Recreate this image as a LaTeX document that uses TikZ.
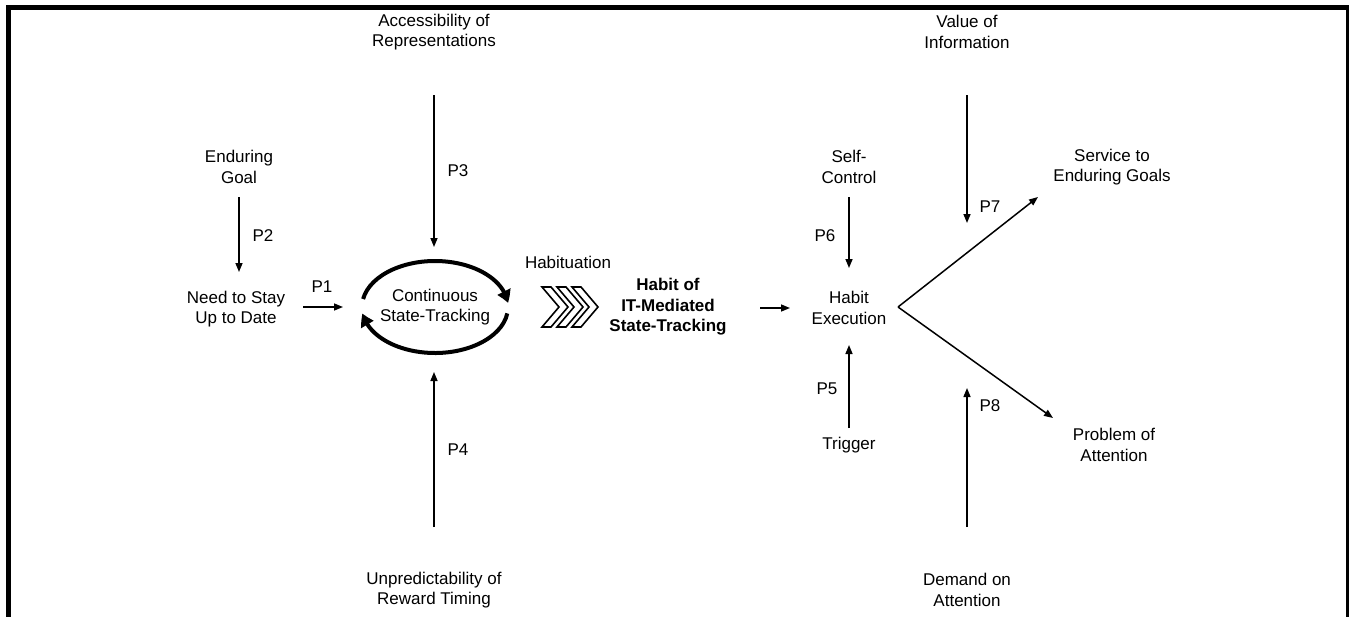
\documentclass[tikz,border=0pt]{standalone}
\usepackage{fontspec}
\setmainfont{Liberation Sans}
\usetikzlibrary{arrows.meta,bending}
\begin{document}
\begin{tikzpicture}[x=1pt,y=-1pt,
  lbl/.style={align=center,inner sep=0pt,font=\fontsize{17pt}{20.5pt}\selectfont},
  blbl/.style={lbl,font=\fontsize{17pt}{20.5pt}\selectfont\bfseries},
  conn/.style={line width=1.5pt,-{Triangle[length=9pt,width=7pt]}},
  cyc/.style={line width=4pt,-{Triangle[bend,length=12pt,width=14pt]}},
  chev/.style={line width=1.6pt,fill=white,line join=miter}]
\useasboundingbox (0,0) rectangle (1349,616);
\draw[line width=5pt] (8.5,620) -- (8.5,7.5) -- (1348,7.5) -- (1348,620);

% text nodes
\node[lbl] (acc) at (434,32) {Accessibility of\\Representations};
\node[lbl] (val) at (967,32) {Value of\\Information};
\node[lbl] (end) at (239,167) {Enduring\\Goal};
\node[lbl] (self) at (849,167) {Self-\\Control};
\node[lbl] (need) at (236,309) {Need to Stay\\Up to Date};
\node[lbl] (cst) at (435,307) {Continuous\\State-Tracking};
\node[lbl] (hab) at (568,262) {Habituation};
\node[blbl] (hit) at (668,307) {Habit of\\IT-Mediated\\State-Tracking};
\node[lbl] (hex) at (849,308) {Habit\\Execution};
\node[lbl] (trig) at (849,445) {Trigger};
\node[lbl] (serv) at (1112,167) {Service to\\Enduring Goals};
\node[lbl] (prob) at (1114,445) {Problem of\\Attention};
\node[lbl] (unp) at (434,590) {Unpredictability of\\Reward Timing};
\node[lbl] (dem) at (967,590) {Demand on\\Attention};

% path labels
\node[lbl] (l1) at (322,287) {P1};
\node[lbl] (l2) at (263,236) {P2};
\node[lbl] (l3) at (458,171) {P3};
\node[lbl] (l4) at (458,450) {P4};
\node[lbl] (l5) at (827,389) {P5};
\node[lbl] (l6) at (825,236) {P6};
\node[lbl] (l7) at (990,207) {P7};
\node[lbl] (l8) at (990,406) {P8};

% connector end points
\coordinate (a3s) at (434,95);  \coordinate (a3e) at (434,247);
\coordinate (a2s) at (239,197); \coordinate (a2e) at (239,272);
\coordinate (a1s) at (303,307); \coordinate (a1e) at (343,307);
\coordinate (a4s) at (434,527); \coordinate (a4e) at (434,372);
\coordinate (ahs) at (760,308); \coordinate (ahe) at (790,308);
\coordinate (a6s) at (849,197); \coordinate (a6e) at (849,268);
\coordinate (a5s) at (849,428); \coordinate (a5e) at (849,345);
\coordinate (a7s) at (967,95);  \coordinate (a7e) at (967,223);
\coordinate (a8s) at (967,527); \coordinate (a8e) at (967,388);
\coordinate (vx) at (898,307);
\coordinate (up) at (1038,197);
\coordinate (dn) at (1053,418);

\draw[conn] (a3s) -- (a3e);
\draw[conn] (a2s) -- (a2e);
\draw[conn] (a1s) -- (a1e);
\draw[conn] (a4s) -- (a4e);
\draw[conn] (ahs) -- (ahe);
\draw[conn] (a6s) -- (a6e);
\draw[conn] (a5s) -- (a5e);
\draw[conn] (a7s) -- (a7e);
\draw[conn] (a8s) -- (a8e);
\draw[conn] (vx) -- (up);
\draw[conn] (vx) -- (dn);

% cycle arrows around continuous state-tracking
\draw[cyc] (cst.center) ++(190:73 and 46) arc[start angle=190,end angle=355,x radius=73,y radius=46];
\draw[cyc] (cst.center) ++(8:73 and 46) arc[start angle=8,end angle=172,x radius=73,y radius=46];

% habituation chevrons
\foreach \xo in {542,557,572}{
  \draw[chev] (\xo,287) -- ++(9,0) -- ++(17,20) -- ++(-17,20) -- ++(-9,0) -- ++(17,-20) -- cycle;
}
\end{tikzpicture}
\end{document}
